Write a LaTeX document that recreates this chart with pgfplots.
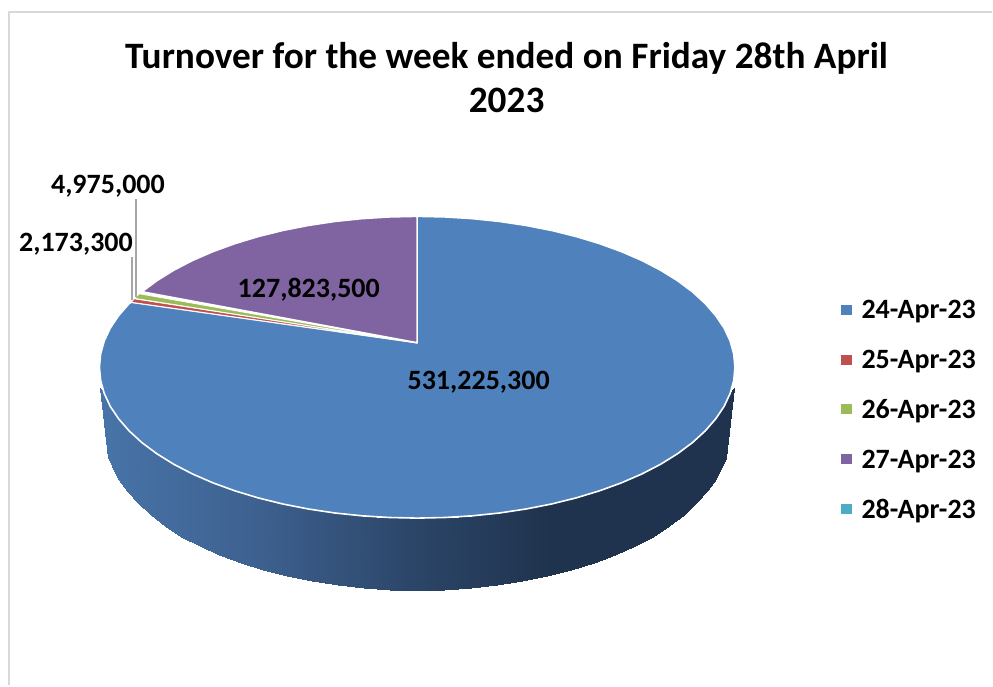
\documentclass[border=0pt]{standalone}
\usepackage{fontspec}
\setmainfont{Carlito}
\usepackage{pgfplots}
\pgfplotsset{compat=1.18}
\definecolor{pieblue}{HTML}{4F81BD}
\definecolor{piered}{HTML}{C0504D}
\definecolor{piegreen}{HTML}{9BBB59}
\definecolor{piepurple}{HTML}{8064A2}
\definecolor{pieaqua}{HTML}{4BACC6}
\definecolor{framegray}{HTML}{D9D9D9}
\definecolor{leadergray}{HTML}{A6A6A6}
\begin{document}
\begin{tikzpicture}
\begin{axis}[
  scale only axis, width=993pt, height=686pt,
  xmin=0, xmax=993, ymin=0, ymax=686, y dir=reverse,
  axis lines=none, clip=false,
  colormap={wallmap}{rgb255(0pt)=(72,116,168); rgb255(150pt)=(62,98,145); rgb255(310pt)=(44,70,105); rgb255(450pt)=(31,51,78); rgb255(635pt)=(31,51,78)},
  point meta min=100, point meta max=735,
]
\path (axis cs:0,0) rectangle (axis cs:993,686);
% frame
\addplot[draw=framegray, line width=1.5pt, mark=none] coordinates {(9,686) (9,12) (993,12)};
% side wall (top row, then bottom row)
\addplot[surf, shader=interp, mesh/rows=2, mesh/cols=35, point meta=x] table {
x y
100.3 388.5
104.3 393.7
110.3 406.6
118.7 419.1
129.3 431.3
142.1 443.0
157.0 454.1
173.9 464.6
192.6 474.3
213.1 483.2
235.1 491.2
258.5 498.3
283.1 504.4
308.7 509.4
335.2 513.4
362.3 516.2
389.8 517.9
417.5 518.5
445.2 517.9
472.7 516.2
499.8 513.4
526.3 509.4
551.9 504.4
576.5 498.3
599.9 491.2
621.9 483.2
642.4 474.3
661.1 464.6
678.0 454.1
692.9 443.0
705.7 431.3
716.3 419.1
724.7 406.6
730.7 393.7
735.0 388.5
108.3 458.0
112.0 466.2
118.5 479.1
127.5 491.6
138.4 503.8
150.8 515.5
165.2 526.6
181.6 537.1
199.7 546.8
219.5 555.7
240.8 563.7
263.5 570.8
287.3 576.9
312.2 581.9
337.8 585.9
364.0 588.7
390.6 590.4
417.5 591.0
444.4 590.4
471.0 588.7
497.2 585.9
522.8 581.9
547.7 576.9
571.5 570.8
594.2 563.7
615.5 555.7
635.3 546.8
653.4 537.1
669.8 526.6
684.2 515.5
696.6 503.8
707.5 491.6
716.5 479.1
723.0 466.2
727.0 458.0
};
% 24-Apr-23
\addplot[fill=pieblue, draw=white, line width=1.6pt, mark=none, line join=round] coordinates {
(417.5,343) (417.5,216.5) (445.2,217.1) (472.7,218.8) (499.8,221.6) (526.3,225.6) (551.9,230.6) (576.5,236.7) (599.9,243.8) (621.9,251.8) (642.4,260.7) (661.1,270.4) (678.0,280.9) (692.9,292.0) (705.7,303.7) (716.3,315.9) (724.7,328.4) (730.7,341.3) (734.3,354.3) (735.5,367.5)
(734.3,380.7) (730.7,393.7) (724.7,406.6) (716.3,419.1) (705.7,431.3) (692.9,443.0) (678.0,454.1) (661.1,464.6) (642.4,474.3) (621.9,483.2) (599.9,491.2) (576.5,498.3) (551.9,504.4) (526.3,509.4) (499.8,513.4) (472.7,516.2) (445.2,517.9) (417.5,518.5)
(389.8,517.9) (362.3,516.2) (335.2,513.4) (308.7,509.4) (283.1,504.4) (258.5,498.3) (235.1,491.2) (213.1,483.2) (192.6,474.3) (173.9,464.6) (157.0,454.1) (142.1,443.0) (129.3,431.3) (118.7,419.1) (110.3,406.6) (104.3,393.7) (100.7,380.7) (99.5,367.5)
(100.7,354.3) (104.3,341.3) (110.3,328.4) (118.7,315.9) (129.3,303.7) (131.5,302.5)
} -- cycle;
% 25-Apr-23
\addplot[fill=piered, draw=white, line width=0.8pt, mark=none] coordinates {(417.5,343) (131.5,302.5) (134.2,299.0)} -- cycle;
% 26-Apr-23
\addplot[fill=piegreen, draw=white, line width=0.8pt, mark=none] coordinates {(417.5,343) (134.8,298.6) (139.4,294.0)} -- cycle;
% 27-Apr-23
\addplot[fill=piepurple, draw=white, line width=1.6pt, mark=none, line join=round] coordinates {
(417.5,343) (417.5,216.5) (389.8,217.1) (362.3,218.8) (335.2,221.6) (308.7,225.6) (283.1,230.6) (258.5,236.7) (235.1,243.8) (213.1,251.8) (192.6,260.7) (173.9,270.4) (157.0,280.9) (142.1,292.0)
} -- cycle;
% leader lines
\addplot[draw=leadergray, line width=1.8pt, mark=none] coordinates {(136.5,199) (136.5,297)};
\addplot[draw=leadergray, line width=1.8pt, mark=none] coordinates {(131.7,257) (131.7,300)};
% legend keys
\addplot[only marks, color=pieblue, mark=square*, mark size=4.8pt] coordinates {(847,310)};
\addplot[only marks, color=piered, mark=square*, mark size=4.8pt] coordinates {(847,360)};
\addplot[only marks, color=piegreen, mark=square*, mark size=4.8pt] coordinates {(847,409)};
\addplot[only marks, color=piepurple, mark=square*, mark size=4.8pt] coordinates {(847,459)};
\addplot[only marks, color=pieaqua, mark=square*, mark size=4.8pt] coordinates {(847,509)};
% text
\tikzset{big/.style={font=\fontsize{37.3}{42}\selectfont\bfseries, inner sep=0pt, anchor=base},
 lab/.style={font=\fontsize{28}{32}\selectfont\bfseries, inner sep=0pt, anchor=base},
 leg/.style={font=\fontsize{28}{32}\selectfont\bfseries, inner sep=0pt, anchor=base west}}
\node[big] at (axis cs:507,68.5) {Turnover for the week ended on Friday 28th April};
\node[big] at (axis cs:507,113) {2023};
\node[lab] at (axis cs:108,193.5) {4,975,000};
\node[lab] at (axis cs:76,251.5) {2,173,300};
\node[lab] at (axis cs:309,298) {127,823,500};
\node[lab] at (axis cs:479,390) {531,225,300};
\node[leg] at (axis cs:862,319) {24-Apr-23};
\node[leg] at (axis cs:862,369) {25-Apr-23};
\node[leg] at (axis cs:862,419) {26-Apr-23};
\node[leg] at (axis cs:862,469) {27-Apr-23};
\node[leg] at (axis cs:862,519) {28-Apr-23};
\end{axis}
\end{tikzpicture}
\end{document}
